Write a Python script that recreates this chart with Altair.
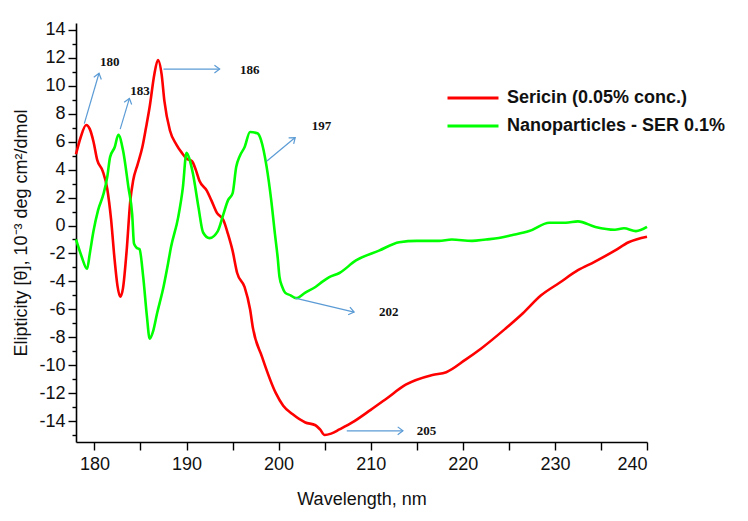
import math
import altair as alt
import pandas as pd

# Sericin (0.05% conc.)
ser_x = [178, 178.5, 179.1, 179.5, 179.9, 180.3, 180.9, 181.4, 181.8, 182.2, 182.5, 182.8, 183.1,
         183.5, 183.9, 184.2, 184.7, 185.2, 185.6, 186.0, 186.5, 186.9, 187.3, 187.6, 188.2, 188.9,
         189.5, 190.0, 190.6, 191.0, 191.4, 192.2, 192.7, 193.3, 194.0, 194.5, 195.0, 195.5, 196.3,
         196.9, 197.2, 198.2, 199.7, 200.5, 201.5, 202.9, 204.0, 204.5, 205.0, 205.7, 206.6, 208.0,
         210.0, 211.7, 213.8, 216.7, 218.2, 220.3, 222.0, 224.6, 226.5, 228.5, 230.5, 232.5, 234.3,
         236.5, 238.0, 240.0]
ser_y = [5.1, 6.3, 7.2, 6.9, 6.0, 4.7, 3.9, 2.6, 0.5, -2.5, -4.3, -5.1, -4.5,
         -1.8, 1.8, 3.2, 4.4, 5.6, 7.0, 8.5, 10.8, 11.85, 10.8, 8.9, 6.8, 5.8,
         5.2, 4.8, 4.6, 4.0, 3.2, 2.5, 1.8, 0.9, 0.4, -0.6, -1.8, -3.4, -4.4,
         -6.0, -7.3, -9.4, -12.0, -12.9, -13.5, -14.1, -14.3, -14.6, -15.0, -14.9, -14.6, -14.1,
         -13.2, -12.4, -11.4, -10.7, -10.5, -9.6, -8.8, -7.4, -6.3, -5.0, -4.1, -3.2, -2.6,
         -1.8, -1.2, -0.8]

# Nanoparticles - SER 0.1%
nan_x = [178, 178.6, 179.2, 179.5, 179.9, 180.4, 181.0, 181.4, 181.7, 182.2, 182.6, 183.1, 183.7,
         184.1, 184.3, 184.6, 184.9, 185.3, 185.7, 186.0, 186.4, 186.8, 187.5, 188.0, 188.3, 189.1,
         189.6, 190.0, 190.3, 190.7, 191.3, 191.8, 192.5, 193.4, 194.0, 194.5, 195.0, 195.4, 195.8,
         196.3, 196.9, 197.7, 198.1, 198.7, 199.2, 199.6, 199.9, 200.1, 200.4, 200.7, 201.3, 201.9,
         202.9, 204.0, 204.8, 205.5, 206.6, 208.4, 210.9, 213.1, 215.0, 217.4, 218.8, 221.0, 222.5,
         223.9, 225.3, 227.2, 229.4, 231.2, 232.5, 234.4, 236.5, 237.5, 238.8, 240.0]
nan_y = [-1.0, -2.2, -3.1, -2.0, -0.4, 1.1, 2.3, 3.5, 4.9, 5.6, 6.5, 5.4, 2.7,
         0.8, -1.3, -1.6, -1.7, -3.7, -6.5, -8.1, -7.5, -6.3, -4.4, -2.7, -1.6, 0.6,
         2.7, 5.2, 4.8, 3.7, 1.3, -0.5, -0.9, -0.4, 0.8, 1.8, 2.3, 4.2, 5.0,
         5.6, 6.7, 6.6, 6.1, 4.2, 1.8, -0.6, -2.3, -3.7, -4.4, -4.8, -5.0, -5.2,
         -4.8, -4.4, -4.0, -3.7, -3.4, -2.5, -1.8, -1.2, -1.1, -1.1, -1.0, -1.1, -1.0,
         -0.9, -0.7, -0.4, 0.2, 0.2, 0.3, -0.1, -0.3, -0.2, -0.4, -0.1]

series_names = ["Sericin (0.05% conc.)", "Nanoparticles - SER 0.1%"]
series_colors = ["#ff0000", "#00ff00"]

y_major = list(range(-14, 15, 2))
y_minor = list(range(-15, 15, 2))
x_ticks = list(range(180, 241, 5))

# Peak annotations: label, arrow start (x, y), arrow end (x, y), label position (x, y)
ann_label = ["180", "183", "186", "197", "202", "205"]
ann_x1 = [178.9, 182.8, 187.5, 198.7, 201.8, 207.4]
ann_y1 = [7.3, 6.9, 11.2, 4.6, -5.2, -14.7]
ann_x2 = [180.5, 183.8, 193.6, 201.8, 208.2, 213.5]
ann_y2 = [10.9, 9.1, 11.2, 6.3, -6.2, -14.7]
ann_tx = [180.6, 183.9, 195.8, 203.6, 210.9, 215.0]
ann_ty = [11.7, 9.6, 11.1, 7.1, -6.2, -14.7]

X_DOMAIN = [178, 240]
Y_DOMAIN = [-15.5, 14.5]
W, H = 571, 419
px_x = W / (X_DOMAIN[1] - X_DOMAIN[0])
px_y = H / (Y_DOMAIN[1] - Y_DOMAIN[0])

rows = []
for name, xs_, ys_ in [(series_names[0], ser_x, ser_y), (series_names[1], nan_x, nan_y)]:
    for a, b in zip(xs_, ys_):
        rows.append({"wl": a, "val": b, "series": name})
df = pd.DataFrame(rows)

ann = pd.DataFrame({
    "label": ann_label, "x1": ann_x1, "y1": ann_y1, "x2": ann_x2, "y2": ann_y2,
    "tx": ann_tx, "ty": ann_ty,
})
ann["angle"] = [
    math.degrees(math.atan2(-(b2 - b1) * px_y, (a2 - a1) * px_x)) % 360
    for a1, b1, a2, b2 in zip(ann_x1, ann_y1, ann_x2, ann_y2)
]

FONT = "Liberation Sans"
xs = alt.Scale(domain=X_DOMAIN, nice=False, zero=False)
ys = alt.Scale(domain=Y_DOMAIN, nice=False, zero=False)

lines = alt.Chart(df).mark_line(strokeWidth=2.6, interpolate="monotone").encode(
    x=alt.X("wl:Q", scale=xs, title="Wavelength, nm",
            axis=alt.Axis(values=x_ticks,
                          labelExpr="datum.value % 10 == 0 ? datum.label : ''",
                          tickSize=8, labelPadding=5, titlePadding=17)),
    y=alt.Y("val:Q", scale=ys, title="Elipticity [θ], 10⁻³ deg cm²/dmol",
            axis=alt.Axis(values=y_major, tickSize=8, labelPadding=3, titlePadding=8,
                          labelExpr="'' + datum.value")),
    color=alt.Color("series:N",
                    scale=alt.Scale(domain=series_names, range=series_colors),
                    sort=series_names,
                    legend=alt.Legend(title=None, orient="none", legendX=370, legendY=66,
                                      symbolType="stroke", symbolSize=2600,
                                      symbolStrokeWidth=3, labelFont=FONT,
                                      labelFontSize=18, labelFontWeight="bold",
                                      labelColor="#111111", labelOffset=7,
                                      clipHeight=18, rowPadding=10, padding=0,
                                      labelLimit=400)),
)

# minor y ticks: a second left axis on the same scale
minor = alt.Chart(pd.DataFrame({"v": y_minor})).mark_point(opacity=0).encode(
    y=alt.Y("v:Q", scale=ys,
            axis=alt.Axis(values=y_minor, tickSize=4, labels=False, domain=False,
                          title=None, orient="left")),
)

base_layer = alt.layer(lines, minor).resolve_axis(y="independent")

shafts = alt.Chart(ann).mark_rule(color="#5b9bd5", strokeWidth=1.2).encode(
    x="x1:Q", y=alt.Y("y1:Q", axis=None), x2="x2:Q", y2="y2:Q",
)
heads = alt.Chart(ann).mark_point(
    shape="M -1 -0.75 L 0 0 L -1 0.75", filled=False, color="#5b9bd5",
    strokeWidth=1.2, size=110, opacity=1,
).encode(
    x="x2:Q", y=alt.Y("y2:Q", axis=None),
    angle=alt.Angle("angle:Q", scale=None),
)
labels = alt.Chart(ann).mark_text(
    font="Liberation Serif", fontWeight="bold", fontSize=13, color="#111111", align="left",
    baseline="middle",
).encode(x="tx:Q", y=alt.Y("ty:Q", axis=None), text="label:N")

chart = alt.layer(base_layer, shafts, heads, labels).resolve_axis(
    y="independent"
).properties(
    width=W, height=H,
    autosize=alt.AutoSizeParams(type="none"),
    padding={"left": 68, "top": 15, "right": 93, "bottom": 71},
).configure_axis(
    grid=False, domainColor="#000000", domainWidth=1.6, tickColor="#000000", tickWidth=1.4,
    labelFont=FONT, labelFontSize=18, labelColor="#111111",
    titleFont=FONT, titleFontSize=18, titleFontWeight="normal", titleColor="#111111",
).configure_view(stroke=None)

chart.save("out.html", embed_options={"renderer": "svg", "actions": False})
